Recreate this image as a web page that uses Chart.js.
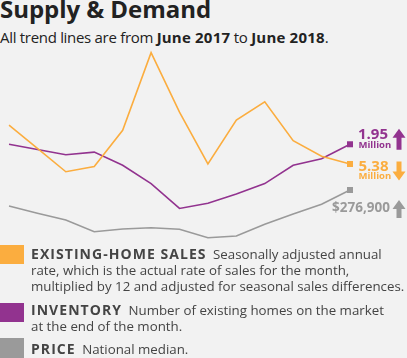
<!DOCTYPE html>
<html>
<head>
<meta charset="utf-8">
<script src="https://cdn.jsdelivr.net/npm/chart.js@4/dist/chart.umd.min.js"></script>
<style>
  html,body{margin:0;padding:0;background:#f2f2f2;}
  body{width:407px;height:358px;position:relative;overflow:hidden;font-family:"Open Sans",sans-serif;color:#222;}
  h1{position:absolute;left:0;top:-3px;margin:0;font-size:24px;line-height:24px;font-weight:700;color:#222;white-space:nowrap;letter-spacing:-0.05px;}
  .sub{position:absolute;left:0;top:30px;font-size:15px;line-height:15px;color:#222;white-space:nowrap;letter-spacing:-0.3px;}
  .sub b{font-weight:700;letter-spacing:0.2px;}
  #wrap{position:absolute;left:0;top:40px;width:407px;height:205px;}
  .leg{position:absolute;left:0;width:407px;font-size:13.3px;line-height:16px;color:#444;white-space:nowrap;}
  .leg .sw{position:absolute;left:0;width:24px;height:19px;}
  .leg .tx{margin-left:31px;}
  .leg b{font-size:14px;line-height:16px;font-weight:700;color:#444;margin-right:3px;letter-spacing:1.05px;}
</style>
</head>
<body>
<h1>Supply &amp; Demand</h1>
<div class="sub">All trend lines are from <b>June 2017</b> to <b>June 2018</b>.</div>
<div id="wrap"><canvas id="c" width="407" height="205"></canvas></div>
<div class="leg" style="top:246px"><div class="sw" style="top:-1px;background:#fbad3f"></div><div class="tx"><b>EXISTING-HOME SALES</b> Seasonally adjusted annual<br>rate, which is the actual rate of sales for the month,<br>multiplied by 12 and adjusted for seasonal sales differences.</div></div>
<div class="leg" style="top:302px"><div class="sw" style="top:1px;background:#92338f"></div><div class="tx"><b>INVENTORY</b> Number of existing homes on the market<br>at the end of the month.</div></div>
<div class="leg" style="top:341px"><div class="sw" style="top:-3px;height:20px;background:#9a9a9a"></div><div class="tx"><b>PRICE</b> National median.</div></div>
<script>
// June 2017 .. June 2018
const months = ['Jun 17','Jul 17','Aug 17','Sep 17','Oct 17','Nov 17','Dec 17','Jan 18','Feb 18','Mar 18','Apr 18','May 18','Jun 18'];
const sales = [5.53,5.44,5.35,5.37,5.51,5.81,5.58,5.38,5.55,5.62,5.47,5.41,5.38]; // millions, SAAR
const inventory = [1.95,1.91,1.87,1.89,1.79,1.65,1.46,1.50,1.57,1.65,1.79,1.84,1.95]; // millions
const price = [264700,259100,254000,245100,247100,248100,246900,240500,241800,250700,258600,266000,276900];
const endLabels = ['5.38','1.95','$276,900'];
const endUnits = ['Million','Million',''];
const endDir = ['down','up','up'];

const ORANGE='#fbad3f', PURPLE='#92338f', GRAY='#9a9a9a';

function arrow(ctx,x,top,h,dir,col){
  const hw=6.5, sw=2.5, head=9;
  ctx.fillStyle=col; ctx.beginPath();
  if(dir==='up'){
    ctx.moveTo(x,top); ctx.lineTo(x+hw,top+head); ctx.lineTo(x+sw,top+head);
    ctx.lineTo(x+sw,top+h); ctx.lineTo(x-sw,top+h); ctx.lineTo(x-sw,top+head); ctx.lineTo(x-hw,top+head);
  } else {
    ctx.moveTo(x,top+h); ctx.lineTo(x+hw,top+h-head); ctx.lineTo(x+sw,top+h-head);
    ctx.lineTo(x+sw,top); ctx.lineTo(x-sw,top); ctx.lineTo(x-sw,top+h-head); ctx.lineTo(x-hw,top+h-head);
  }
  ctx.closePath(); ctx.fill();
}

// end-of-line markers, values and arrows
const endPlugin = {
  id:'ends',
  afterDatasetsDraw(chart){
    const ctx=chart.ctx;
    chart.data.datasets.forEach((ds,i)=>{
      const pts=chart.getDatasetMeta(i).data;
      const p=pts[pts.length-1];
      const col=ds.borderColor;
      ctx.save();
      ctx.fillStyle=col;
      ctx.fillRect(p.x-3,p.y-3,6,6);
      ctx.textBaseline='alphabetic'; ctx.textAlign='left';
      if(i===1){
        ctx.font='700 15px "Open Sans"';
        ctx.fillText(endLabels[i],p.x+8,p.y-5.5);
        ctx.font='700 9.5px "Open Sans"';
        ctx.fillText(endUnits[i],p.x+8.5,p.y+4);
        arrow(ctx,p.x+49,p.y-15.5,21,endDir[i],col);
      } else if(i===0){
        ctx.font='700 15px "Open Sans"';
        ctx.fillText(endLabels[i],p.x+8.5,p.y+7);
        ctx.font='700 9.5px "Open Sans"';
        ctx.fillText(endUnits[i],p.x+8.5,p.y+15.5);
        arrow(ctx,p.x+49,p.y-2.5,19,endDir[i],col);
      } else {
        ctx.font='700 13.5px "Open Sans"';
        ctx.textAlign='right';
        ctx.fillText(endLabels[i],p.x+40,p.y+21.5);
        arrow(ctx,p.x+49,p.y+10,18,endDir[i],col);
      }
      ctx.restore();
    });
  }
};

const lineDs=(data,col,axis)=>({data,borderColor:col,borderWidth:1.6,pointRadius:0,tension:0,yAxisID:axis,fill:false});

new Chart(document.getElementById('c'),{
  type:'line',
  data:{labels:months,datasets:[
    lineDs(sales,ORANGE,'ySales'),
    lineDs(inventory,PURPLE,'yInv'),
    lineDs(price,GRAY,'yPrice')
  ]},
  options:{
    responsive:false,animation:false,
    layout:{padding:{left:9,right:57,top:0,bottom:0}},
    plugins:{legend:{display:false},tooltip:{enabled:false}},
    scales:{
      x:{display:false},
      ySales:{display:false,min:5.067,max:5.859},
      yInv:{display:false,min:1.181,max:2.746},
      yPrice:{display:false,min:234935,max:391350}
    }
  },
  plugins:[endPlugin]
});
</script>
</body>
</html>
